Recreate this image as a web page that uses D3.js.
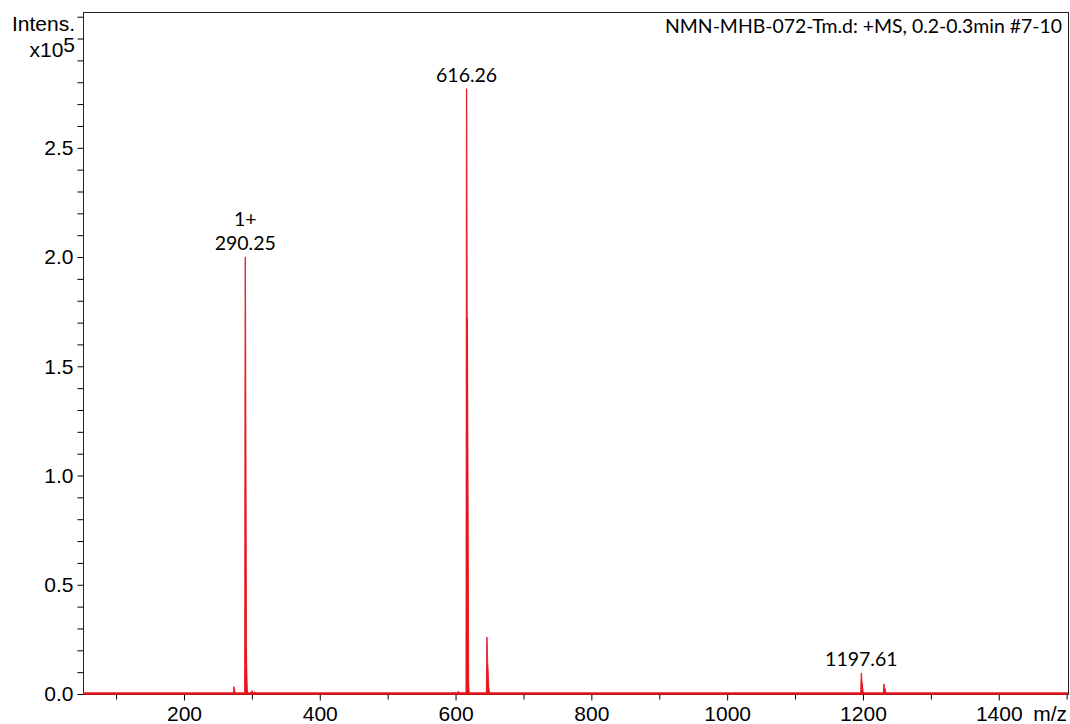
<!DOCTYPE html>
<html><head><meta charset="utf-8">
<script src="https://cdn.jsdelivr.net/npm/d3@7"></script>
<style>body{margin:0;background:#fff} svg{display:block}</style>
</head><body>
<svg id="chart" width="1070" height="724"></svg>
<script>
// Axis ticks
const mzTicks = [200, 400, 600, 800, 1000, 1200, 1400];
const mzMinorTicks = [100, 300, 500, 700, 900, 1100, 1300, 1500];
const intensTicks = [0.0, 0.5, 1.0, 1.5, 2.0, 2.5];

// Peak centroids (m/z) and intensities (x10^5)
const peakMz = [273.6, 290.25, 291.25, 292.3, 300.1, 304.2, 599.2, 604.0, 610.5,
                616.26, 617.26, 618.3, 646.2, 647.2, 648.3, 1197.61, 1198.6, 1231.0, 1232.2];
const peakIntensity = [0.033, 2.00, 0.215, 0.02, 0.015, 0.01, 0.008, 0.012, 0.006,
                       2.77, 1.72, 0.05, 0.26, 0.13, 0.03, 0.096, 0.05, 0.046, 0.025];

// Annotated peaks
const labelMz = [290.25, 616.26, 1197.61];
const labelText = ["290.25", "616.26", "1197.61"];
const chargeText = ["1+", "", ""];

const title = "NMN-MHB-072-Tm.d: +MS, 0.2-0.3min #7-10";

const red = "#e8141e";
const svg = d3.select("#chart");
const plotL = 83, plotR = 1068, plotT = 13, plotB = 694;

const x = d3.scaleLinear().domain([51.3, 1502]).range([plotL, plotR]);
const y = d3.scaleLinear().domain([0, 3.117]).range([plotB, plotT]);

// Plot frame
svg.append("rect")
  .attr("x", plotL + 0.5).attr("y", plotT - 0.5)
  .attr("width", plotR - plotL).attr("height", plotB - plotT + 1)
  .attr("fill", "none").attr("stroke", "#222").attr("stroke-width", 1);

// Left axis: minor ticks every 0.1, labels every 0.5
const yMinor = d3.range(0, 32).map(i => i / 10);
const yAxis = d3.axisLeft(y).tickValues(yMinor).tickSize(6).tickPadding(4)
  .tickFormat(d => intensTicks.some(t => Math.abs(t - d) < 1e-6) ? d3.format(".1f")(d) : "");
const gy = svg.append("g").attr("transform", `translate(${plotL + 0.5},0)`).call(yAxis);
gy.select(".domain").remove();
gy.selectAll("text").attr("font-family", "Liberation Sans, Arial, sans-serif")
  .attr("font-size", 21).attr("fill", "#000");
gy.selectAll("line").attr("stroke", "#000");

// Bottom axis: labelled major ticks plus minor ticks
const xAxis = d3.axisBottom(x).tickValues(mzTicks).tickSize(6).tickPadding(6)
  .tickFormat(d3.format("d"));
const gx = svg.append("g").attr("transform", `translate(0,${plotB + 0.5})`).call(xAxis);
gx.select(".domain").remove();
gx.selectAll("text").attr("font-family", "Liberation Sans, Arial, sans-serif")
  .attr("font-size", 21).attr("fill", "#000");
gx.selectAll("line").attr("stroke", "#000");
const gxm = svg.append("g").attr("transform", `translate(0,${plotB + 0.5})`)
  .call(d3.axisBottom(x).tickValues(mzMinorTicks.filter(v => v < 1502)).tickSize(5).tickFormat(""));
gxm.select(".domain").remove();
gxm.selectAll("line").attr("stroke", "#000");

svg.append("text").attr("x", 1067).attr("y", 721).attr("text-anchor", "end")
  .attr("font-family", "Liberation Sans, Arial, sans-serif").attr("font-size", 21)
  .text("m/z");

// Y axis title
svg.append("text").attr("x", 75).attr("y", 31).attr("text-anchor", "end")
  .attr("font-family", "Liberation Sans, Arial, sans-serif").attr("font-size", 21)
  .text("Intens.");
const unit = svg.append("text").attr("x", 75).attr("y", 57).attr("text-anchor", "end")
  .attr("font-family", "Liberation Sans, Arial, sans-serif").attr("font-size", 21);
unit.append("tspan").text("x10");
unit.append("tspan").attr("dy", -5).text("5");

// Spectrum peaks as filled profile shapes
const peaks = peakMz.map((m, i) => [m, peakIntensity[i]]);
const area = d3.area().x(d => x(d[0])).y0(y(0)).y1(d => y(d[1]));
svg.append("g").selectAll("path").data(peaks).join("path")
  .attr("d", p => area([[p[0] - 1.0, 0], [p[0] - 0.3, p[1]], [p[0] + 0.3, p[1]], [p[0] + 2.2, 0]]))
  .attr("fill", red).attr("stroke", red).attr("stroke-width", 0.8).attr("stroke-linejoin", "miter");

// Baseline trace
svg.append("line")
  .attr("x1", x(51.3)).attr("x2", x(1502))
  .attr("y1", y(0) - 0.5).attr("y2", y(0) - 0.5)
  .attr("stroke", red).attr("stroke-width", 2.4);

// Peak annotations
const labelFont = "Lato, 'Open Sans', sans-serif";
labelMz.forEach((m, i) => {
  const idx = peakMz.indexOf(m);
  const py = y(peakIntensity[idx]);
  svg.append("text").attr("x", x(m)).attr("y", py - 7).attr("text-anchor", "middle")
    .attr("font-family", labelFont).attr("font-size", 19.5).attr("fill", "#000")
    .text(labelText[i]);
  if (chargeText[i]) {
    svg.append("text").attr("x", x(m)).attr("y", py - 31).attr("text-anchor", "middle")
      .attr("font-family", labelFont).attr("font-size", 19.5).attr("fill", "#000")
      .text(chargeText[i]);
  }
});

// Spectrum title
svg.append("text").attr("x", 1062).attr("y", 33).attr("text-anchor", "end")
  .attr("font-family", labelFont).attr("font-size", 19.5).attr("fill", "#000")
  .attr("textLength", 397).attr("lengthAdjust", "spacingAndGlyphs")
  .text(title);
</script>
</body></html>
